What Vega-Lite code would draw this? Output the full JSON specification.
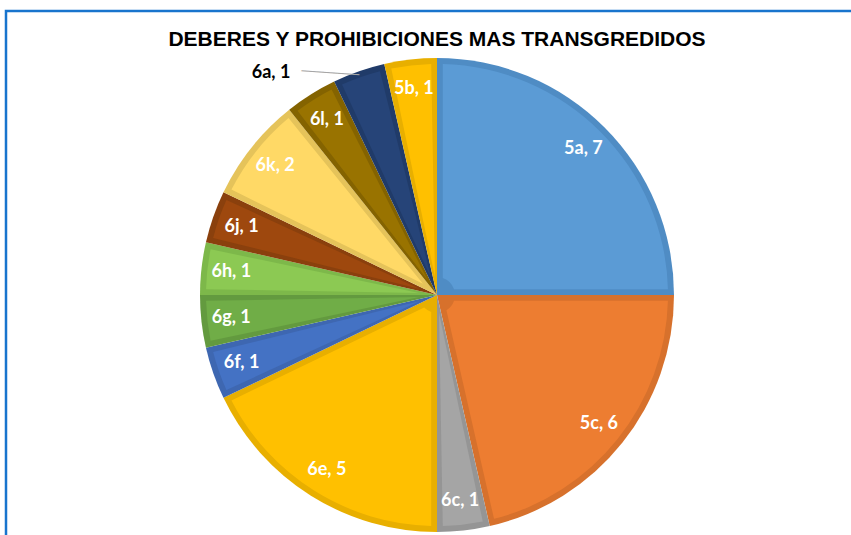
{
  "$schema": "https://vega.github.io/schema/vega-lite/v6.json",
  "width": 862,
  "height": 568,
  "autosize": {"type": "none"},
  "padding": {"left": 6, "top": 11, "right": 0, "bottom": 0},
  "background": "white",
  "view": {"stroke": "#1874CD", "strokeWidth": 2.5, "fill": "white"},
  "title": {
    "text": "DEBERES Y PROHIBICIONES MAS TRANSGREDIDOS",
    "font": "Liberation Sans",
    "fontSize": 21,
    "fontWeight": "bold",
    "color": "#000000",
    "anchor": "middle",
    "baseline": "alphabetic",
    "offset": -56,
    "frame": "group"
  },
  "data": {
    "values": [
      {"key": "5a", "value": 7, "idx": 1, "lbl": "5a, 7"},
      {"key": "5c", "value": 6, "idx": 2, "lbl": "5c, 6"},
      {"key": "6c", "value": 1, "idx": 3, "lbl": "6c, 1"},
      {"key": "6e", "value": 5, "idx": 4, "lbl": "6e, 5"},
      {"key": "6f", "value": 1, "idx": 5, "lbl": "6f, 1"},
      {"key": "6g", "value": 1, "idx": 6, "lbl": "6g, 1"},
      {"key": "6h", "value": 1, "idx": 7, "lbl": "6h, 1"},
      {"key": "6j", "value": 1, "idx": 8, "lbl": "6j, 1"},
      {"key": "6k", "value": 2, "idx": 9, "lbl": "6k, 2"},
      {"key": "6l", "value": 1, "idx": 10, "lbl": "6l, 1"},
      {"key": "6a", "value": 1, "idx": 11, "lbl": "6a, 1"},
      {"key": "5b", "value": 1, "idx": 12, "lbl": "5b, 1"}
    ]
  },
  "encoding": {
    "theta": {"field": "value", "type": "quantitative", "stack": true},
    "order": {"field": "idx", "type": "quantitative"}
  },
  "layer": [
    {
      "mark": {"type": "arc", "outerRadius": 237},
      "encoding": {
        "color": {
          "field": "key", "type": "nominal", "legend": null,
          "scale": {
            "domain": ["5a","5c","6c","6e","6f","6g","6h","6j","6k","6l","6a","5b"],
            "range": ["#4F8CC4","#D7712C","#959595","#E8AF00","#3E67B1","#639A3F","#7DB84A","#8A400D","#E5C35A","#846300","#203B69","#E8AF00"]
          }
        }
      }
    },
    {
      "mark": {"type": "arc", "outerRadius": 231, "innerRadius": 18, "padAngle": 0.05},
      "encoding": {
        "color": {
          "field": "key", "type": "nominal", "legend": null,
          "scale": {
            "domain": ["5a","5c","6c","6e","6f","6g","6h","6j","6k","6l","6a","5b"],
            "range": ["#5B9BD5","#ED7D31","#A5A5A5","#FFC000","#4472C4","#70AD47","#8CC953","#9E480E","#FFD966","#997300","#264478","#FFC000"]
          }
        }
      }
    },
    {
      "mark": {"type": "text", "radius": 207, "font": "Lato", "fontWeight": "bold", "fontSize": 18, "color": "#FFFFFF"},
      "encoding": {
        "text": {"condition": {"test": "datum.key === '6a'", "value": ""}, "field": "lbl"}
      }
    },
    {
      "mark": {"type": "text", "radius": 230, "dx": -90, "dy": -5, "font": "Lato", "fontWeight": "bold", "fontSize": 18, "color": "#000000"},
      "encoding": {
        "text": {"condition": {"test": "datum.key !== '6a'", "value": ""}, "field": "lbl"}
      }
    },
    {
      "mark": {"type": "text", "radius": 230, "dx": -31, "dy": -3, "angle": 4, "font": "DejaVu Sans", "fontSize": 12, "color": "#A6A6A6"},
      "encoding": {
        "text": {"condition": {"test": "datum.key === '6a'", "value": "────────"}, "value": ""}
      }
    }
  ],
  "resolve": {"scale": {"color": "independent"}}
}
